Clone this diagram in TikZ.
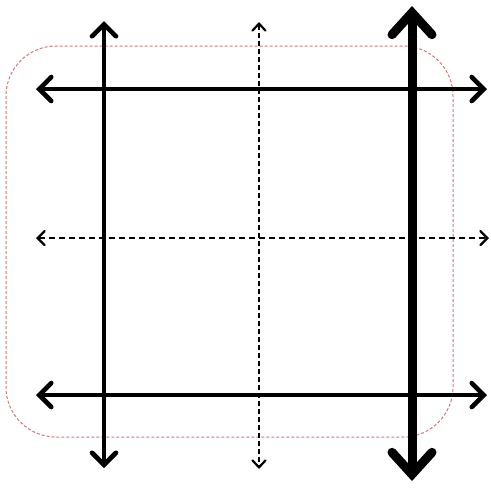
\documentclass[tikz,border=0pt]{standalone}
\usetikzlibrary{arrows.meta}
\definecolor{frameRed}{RGB}{205,120,125}
\tikzset{
  medarrow/.style={line width=4.6pt,{Straight Barb[length=12pt,width=24pt,line cap=round]}-{Straight Barb[length=12pt,width=24pt,line cap=round]}},
  thickarrow/.style={line width=9pt,{Straight Barb[length=22pt,width=40pt,line cap=round]}-{Straight Barb[length=22pt,width=40pt,line cap=round]}},
  dasharrow/.style={line width=2.2pt,dash pattern=on 5pt off 3pt,{Straight Barb[length=7pt,width=13pt,line cap=round]}-{Straight Barb[length=7pt,width=13pt,line cap=round]}},
  hdasharrow/.style={line width=2.3pt,dash pattern=on 6pt off 4pt,{Straight Barb[length=7pt,width=14pt,line cap=round]}-{Straight Barb[length=7pt,width=14pt,line cap=round]}},
  frame/.style={draw=frameRed,line width=1pt,dash pattern=on 3pt off 2pt,rounded corners=50pt}
}
\begin{document}
\begin{tikzpicture}[x=1pt,y=-1pt]
\useasboundingbox (0,0) rectangle (491,488);
\draw[frame] (6,46) rectangle (453,437);
% endpoints
\coordinate (v1t) at (104,21); \coordinate (v1b) at (104,468);
\coordinate (v2t) at (259,22); \coordinate (v2b) at (259,469);
\coordinate (v3t) at (412,6);  \coordinate (v3b) at (412,481);
\coordinate (h1l) at (36,89);  \coordinate (h1r) at (487,89);
\coordinate (h2l) at (36,238); \coordinate (h2r) at (489,238);
\coordinate (h3l) at (36,395); \coordinate (h3r) at (487,395);
\draw[medarrow] (h1l) -- (h1r);
\draw[hdasharrow] (h2l) -- (h2r);
\draw[medarrow] (h3l) -- (h3r);
\draw[medarrow] (v1t) -- (v1b);
\draw[dasharrow] (v2t) -- (v2b);
\draw[thickarrow] (v3t) -- (v3b);
\end{tikzpicture}
\end{document}
